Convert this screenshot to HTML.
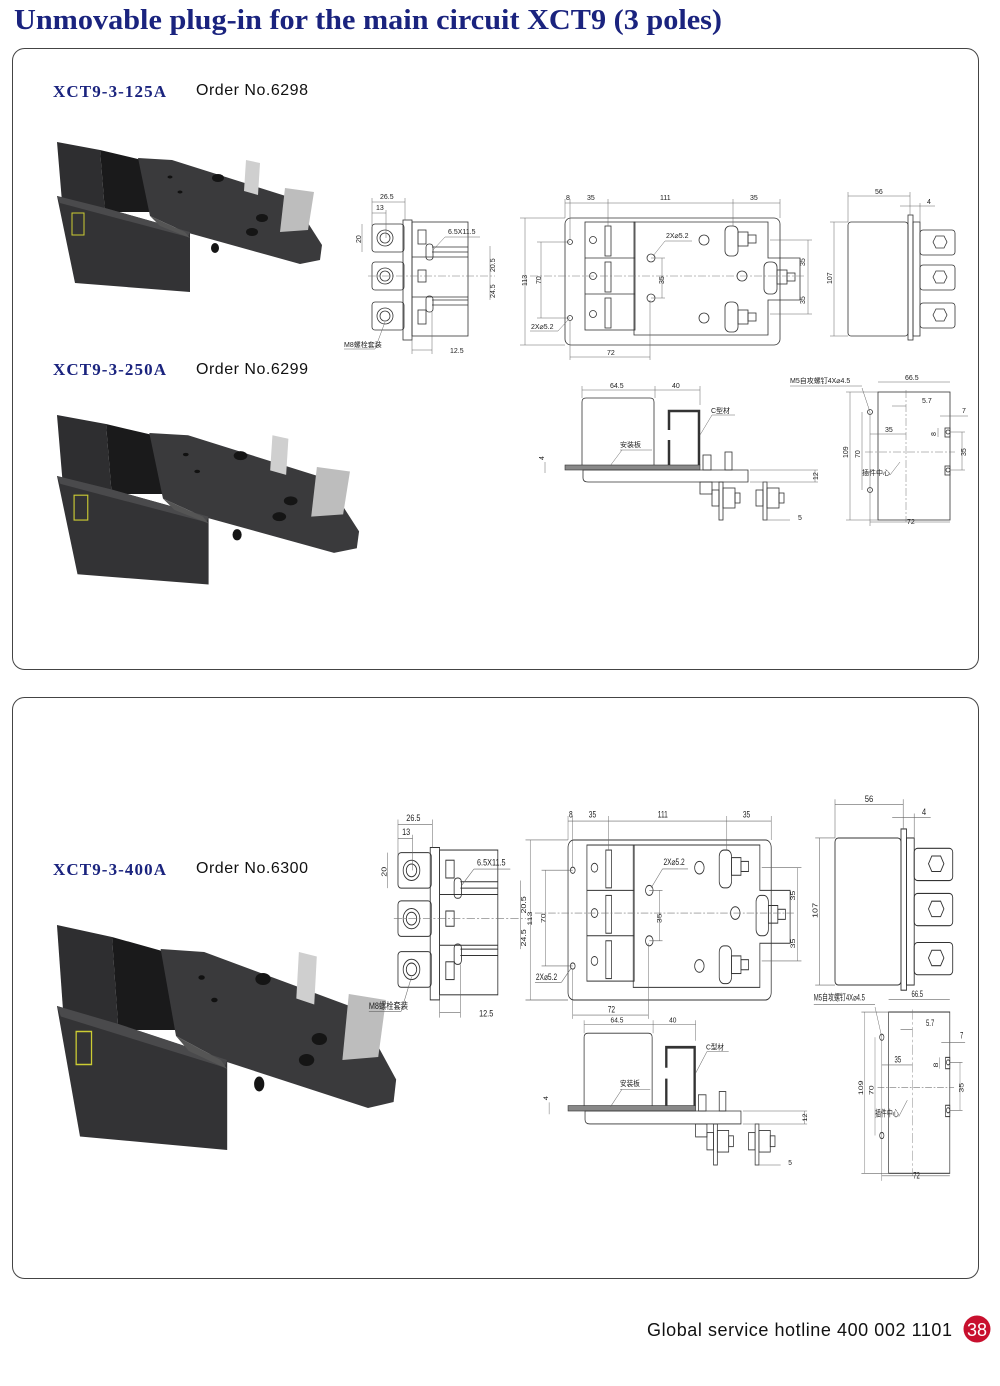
<!DOCTYPE html>
<html><head><meta charset="utf-8"><style>
html,body{margin:0;padding:0;background:#fff;width:1000px;height:1386px;overflow:hidden}
svg{display:block}
.t{font-family:"Liberation Sans","Noto Sans CJK SC",sans-serif;font-size:7px;fill:#222}
.s{fill:none;stroke:#333;stroke-width:0.8}
.d{fill:none;stroke:#666;stroke-width:0.5}
.c{fill:none;stroke:#777;stroke-width:0.5;stroke-dasharray:8 2 2 2}
</style></head><body>
<svg width="1000" height="1386" viewBox="0 0 1000 1386" xmlns="http://www.w3.org/2000/svg">
<defs>
<g id="photo">
 <polygon points="57,142 100,150 105,212 62,202" fill="#2e2e30"/>
 <polygon points="100,150 142,160 182,212 105,212" fill="#1a1a1b"/>
 <polygon points="138,158 172,160 292,198 322,245 320,260 300,264 185,232 150,216" fill="#3a3a3c"/>
 <polygon points="57,196 105,208 190,232 190,292 75,283" fill="#333335"/>
 <polygon points="57,196 105,208 190,232 188,237 60,203" fill="#4a4a4c"/>
 <rect x="72" y="213" width="12" height="22" fill="none" stroke="#cc3" stroke-width="1"/>
 <polygon points="150,216 185,232 190,238 160,226" fill="#555"/>
 <ellipse cx="218" cy="178" rx="6" ry="4" fill="#151515"/>
 <ellipse cx="262" cy="218" rx="6" ry="4" fill="#151515"/>
 <ellipse cx="252" cy="232" rx="6" ry="4" fill="#151515"/>
 <ellipse cx="215" cy="248" rx="4" ry="5" fill="#151515"/>
 <polygon points="246,160 260,163 258,195 244,191" fill="#cfcfcf"/>
 <polygon points="285,188 314,192 308,230 280,232" fill="#bdbdbd"/>
 <ellipse cx="170" cy="177" rx="2.5" ry="1.5" fill="#111"/>
 <ellipse cx="180" cy="192" rx="2.5" ry="1.5" fill="#111"/>
</g>
<g id="vA">
 <rect class="s" x="372" y="224" width="32" height="28" rx="3"/>
 <rect class="s" x="372" y="262" width="32" height="28" rx="3"/>
 <rect class="s" x="372" y="302" width="32" height="28" rx="3"/>
 <g class="s"><circle cx="385" cy="238" r="8"/><circle cx="385" cy="238" r="5"/><circle cx="385" cy="276" r="8"/><circle cx="385" cy="276" r="5"/><circle cx="385" cy="316" r="8"/><circle cx="385" cy="316" r="5"/></g>
 <rect class="s" x="403" y="220" width="9" height="120"/>
 <rect class="s" x="412" y="222" width="56" height="114"/>
 <g class="s"><line x1="412" y1="257" x2="468" y2="257"/><line x1="412" y1="297" x2="468" y2="297"/>
 <line x1="432" y1="247" x2="468" y2="247"/><line x1="432" y1="252" x2="468" y2="252"/><line x1="432" y1="300" x2="468" y2="300"/><line x1="432" y1="305" x2="468" y2="305"/>
 <rect x="418" y="230" width="8" height="14"/><rect x="418" y="270" width="8" height="12"/><rect x="418" y="310" width="8" height="14"/>
 <rect x="426" y="244" width="7" height="16" rx="3"/><rect x="426" y="296" width="7" height="16" rx="3"/></g>
 <line class="c" x1="368" y1="276" x2="495" y2="276"/>
 <g class="d"><line x1="372" y1="202" x2="405" y2="202"/><line x1="372" y1="198" x2="372" y2="226"/><line x1="405" y1="198" x2="405" y2="220"/>
 <line x1="372" y1="213" x2="386" y2="213"/><line x1="386" y1="210" x2="386" y2="238"/>
 <line x1="362" y1="224" x2="362" y2="252"/><line x1="490" y1="246" x2="490" y2="300"/>
 <line x1="412" y1="350" x2="432" y2="350"/><line x1="412" y1="336" x2="412" y2="354"/><line x1="432" y1="312" x2="432" y2="354"/>
 <line x1="433" y1="250" x2="445" y2="237"/><line x1="445" y1="237" x2="480" y2="237"/>
 <line x1="385" y1="322" x2="375" y2="349"/><line x1="344" y1="349" x2="375" y2="349"/></g>
 <text class="t" x="380" y="199">26.5</text><text class="t" x="376" y="210">13</text>
 <text class="t" x="448" y="234">6.5X11.5</text><text class="t" x="450" y="353">12.5</text>
 <text class="t" x="344" y="347">M8螺栓套装</text>
 <text class="t" transform="translate(361,243) rotate(-90)">20</text>
 <text class="t" transform="translate(495,272) rotate(-90)">20.5</text>
 <text class="t" transform="translate(495,298) rotate(-90)">24.5</text>
</g>
<g id="vB">
 <rect class="s" x="565" y="218" width="215" height="127" rx="6"/>
 <rect class="s" x="585" y="222" width="50" height="108"/>
 <g class="s"><line x1="585" y1="258" x2="635" y2="258"/><line x1="585" y1="294" x2="635" y2="294"/>
 <rect x="605" y="226" width="6" height="30"/><rect x="605" y="262" width="6" height="30"/><rect x="605" y="298" width="6" height="30"/>
 <circle cx="593" cy="240" r="3.5"/><circle cx="593" cy="276" r="3.5"/><circle cx="593" cy="314" r="3.5"/>
 <polygon points="634,222 768,222 768,258 800,258 800,300 768,300 768,335 634,335"/>
 <circle cx="651" cy="258" r="4"/><circle cx="651" cy="298" r="4"/><circle cx="704" cy="240" r="5"/><circle cx="704" cy="318" r="5"/><circle cx="742" cy="276" r="5"/>
 <circle cx="570" cy="242" r="2.5"/><circle cx="570" cy="318" r="2.5"/>
 <rect x="725" y="226" width="13" height="30" rx="5"/><rect x="725" y="302" width="13" height="30" rx="5"/><rect x="764" y="262" width="13" height="32" rx="5"/>
 <rect x="738" y="232" width="10" height="14"/><rect x="748" y="235" width="8" height="8"/><rect x="738" y="310" width="10" height="14"/><rect x="748" y="313" width="8" height="8"/><rect x="777" y="270" width="10" height="14"/><rect x="787" y="273" width="8" height="8"/></g>
 <line class="c" x1="530" y1="276" x2="805" y2="276"/>
 <g class="d"><line x1="565" y1="203" x2="780" y2="203"/><line x1="565" y1="199" x2="565" y2="218"/><line x1="570" y1="199" x2="570" y2="240"/><line x1="608" y1="199" x2="608" y2="226"/><line x1="733" y1="199" x2="733" y2="226"/><line x1="780" y1="199" x2="780" y2="218"/>
 <line x1="525" y1="218" x2="525" y2="345"/><line x1="520" y1="218" x2="565" y2="218"/><line x1="520" y1="345" x2="565" y2="345"/>
 <line x1="541" y1="242" x2="541" y2="318"/><line x1="537" y1="242" x2="570" y2="242"/><line x1="537" y1="318" x2="570" y2="318"/>
 <line x1="570" y1="357" x2="650" y2="357"/><line x1="570" y1="320" x2="570" y2="360"/><line x1="650" y1="300" x2="650" y2="360"/>
 <line x1="808" y1="240" x2="808" y2="314"/><line x1="770" y1="240" x2="812" y2="240"/><line x1="770" y1="314" x2="812" y2="314"/>
 <line x1="662" y1="258" x2="662" y2="298"/><line x1="651" y1="258" x2="665" y2="258"/><line x1="651" y1="298" x2="665" y2="298"/>
 <line x1="653" y1="256" x2="665" y2="241"/><line x1="665" y1="241" x2="692" y2="241"/><line x1="568" y1="320" x2="558" y2="331"/><line x1="530" y1="331" x2="558" y2="331"/></g>
 <text class="t" x="566" y="200">8</text><text class="t" x="587" y="200">35</text><text class="t" x="660" y="200">111</text><text class="t" x="750" y="200">35</text>
 <text class="t" x="666" y="238">2X⌀5.2</text><text class="t" x="531" y="329">2X⌀5.2</text><text class="t" x="607" y="355">72</text>
 <text class="t" transform="translate(527,286) rotate(-90)">113</text><text class="t" transform="translate(541,284) rotate(-90)">70</text>
 <text class="t" transform="translate(664,284) rotate(-90)">35</text>
 <text class="t" transform="translate(805,266) rotate(-90)">35</text><text class="t" transform="translate(805,304) rotate(-90)">35</text>
</g>
<g id="vC">
 <rect class="s" x="848" y="222" width="60" height="114" rx="3"/>
 <rect class="s" x="908" y="215" width="5" height="125"/><rect class="s" x="913" y="222" width="7" height="114"/>
 <rect class="s" x="920" y="230" width="35" height="25" rx="3"/><rect class="s" x="920" y="265" width="35" height="25" rx="3"/><rect class="s" x="920" y="303" width="35" height="25" rx="3"/>
 <g class="s"><polygon points="933,242 936,236 944,236 947,242 944,248 936,248"/><polygon points="933,277 936,271 944,271 947,277 944,283 936,283"/><polygon points="933,315 936,309 944,309 947,315 944,321 936,321"/></g>
 <g class="d"><line x1="848" y1="196" x2="910" y2="196"/><line x1="848" y1="192" x2="848" y2="222"/><line x1="910" y1="192" x2="910" y2="215"/>
 <line x1="900" y1="206" x2="935" y2="206"/><line x1="920" y1="203" x2="920" y2="222"/>
 <line x1="834" y1="222" x2="834" y2="336"/><line x1="830" y1="222" x2="848" y2="222"/><line x1="830" y1="336" x2="848" y2="336"/></g>
 <text class="t" x="875" y="194">56</text><text class="t" x="927" y="204">4</text>
 <text class="t" transform="translate(832,284) rotate(-90)">107</text>
</g>
<g id="vD">
 <path class="s" d="M582 468 V402 Q582 398 586 398 H650 Q654 398 654 402 V468"/>
 <path d="M669 465 V440 M669 430 V411 H699 V465" fill="none" stroke="#333" stroke-width="2.5"/>
 <rect x="565" y="465" width="135" height="5" fill="#888" stroke="#333" stroke-width="0.6"/>
 <path class="s" d="M583 470 V478 Q583 482 588 482 H748 V470 Z"/>
 <rect class="s" x="703" y="455" width="8" height="15"/><rect class="s" x="725" y="452" width="7" height="18"/>
 <rect class="s" x="700" y="482" width="12" height="12"/>
 <g class="s"><rect x="719" y="482" width="4" height="38"/><rect x="712" y="490" width="7" height="16"/><rect x="723" y="488" width="12" height="20"/><rect x="735" y="493" width="5" height="10"/>
 <rect x="763" y="482" width="4" height="38"/><rect x="756" y="490" width="7" height="16"/><rect x="767" y="488" width="12" height="20"/><rect x="779" y="493" width="5" height="10"/></g>
 <g class="d"><line x1="582" y1="390" x2="700" y2="390"/><line x1="582" y1="386" x2="582" y2="398"/><line x1="655" y1="386" x2="655" y2="398"/><line x1="700" y1="386" x2="700" y2="405"/>
 <line x1="545" y1="462" x2="545" y2="473"/><line x1="815" y1="470" x2="815" y2="482"/><line x1="750" y1="470" x2="818" y2="470"/><line x1="750" y1="482" x2="818" y2="482"/>
 <line x1="763" y1="520" x2="790" y2="520"/><line x1="610" y1="466" x2="622" y2="450"/><line x1="620" y1="450" x2="652" y2="450"/>
 <line x1="700" y1="435" x2="712" y2="415"/><line x1="712" y1="415" x2="735" y2="415"/></g>
 <text class="t" x="610" y="388">64.5</text><text class="t" x="672" y="388">40</text>
 <text class="t" x="620" y="447">安装板</text><text class="t" x="711" y="413">C型材</text>
 <text class="t" x="798" y="520">5</text>
 <text class="t" transform="translate(544,460) rotate(-90)">4</text><text class="t" transform="translate(818,480) rotate(-90)">12</text>
</g>
<g id="vE">
 <rect class="s" x="878" y="392" width="72" height="128"/>
 <rect class="s" x="945" y="428" width="5" height="9"/><rect class="s" x="945" y="466" width="5" height="9"/>
 <g class="s"><circle cx="870" cy="412" r="2.5"/><circle cx="870" cy="490" r="2.5"/><circle cx="948" cy="432" r="2"/><circle cx="948" cy="470" r="2"/></g>
 <line class="c" x1="906" y1="390" x2="906" y2="522"/><line class="c" x1="865" y1="452" x2="955" y2="452"/>
 <g class="d"><line x1="878" y1="382" x2="950" y2="382"/><line x1="850" y1="392" x2="850" y2="520"/><line x1="846" y1="392" x2="878" y2="392"/><line x1="846" y1="520" x2="878" y2="520"/>
 <line x1="862" y1="412" x2="862" y2="490"/><line x1="870" y1="522" x2="950" y2="522"/><line x1="870" y1="412" x2="870" y2="526"/>
 <line x1="870" y1="434" x2="906" y2="434"/><line x1="892" y1="406" x2="906" y2="406"/><line x1="940" y1="416" x2="968" y2="416"/>
 <line x1="938" y1="428" x2="938" y2="437"/><line x1="962" y1="432" x2="962" y2="470"/><line x1="950" y1="432" x2="965" y2="432"/><line x1="950" y1="470" x2="965" y2="470"/>
 <line x1="870" y1="412" x2="862" y2="388"/><line x1="790" y1="386" x2="862" y2="386"/><line x1="890" y1="475" x2="900" y2="462"/></g>
 <text class="t" x="905" y="380">66.5</text><text class="t" x="922" y="403">5.7</text><text class="t" x="962" y="413">7</text>
 <text class="t" x="885" y="432">35</text><text class="t" x="862" y="475">插件中心</text><text class="t" x="907" y="524">72</text>
 <text class="t" x="790" y="383">M5自攻螺钉4X⌀4.5</text>
 <text class="t" transform="translate(848,458) rotate(-90)">109</text><text class="t" transform="translate(860,458) rotate(-90)">70</text>
 <text class="t" transform="translate(936,436) rotate(-90)">8</text><text class="t" transform="translate(966,456) rotate(-90)">35</text>
</g>
</defs>

<text x="14" y="29" font-family="Liberation Serif,serif" font-weight="bold" font-size="29" fill="#1a237e" textLength="708" lengthAdjust="spacingAndGlyphs">Unmovable plug-in for the main circuit XCT9 (3 poles)</text>

<rect x="12.5" y="48.5" width="966" height="621" rx="12" fill="none" stroke="#444" stroke-width="1"/>
<rect x="12.5" y="697.5" width="966" height="581" rx="12" fill="none" stroke="#444" stroke-width="1"/>

<g font-family="Liberation Serif,serif" font-weight="bold" font-size="17" fill="#1a237e">
<text x="53" y="97" textLength="113">XCT9-3-125A</text><text x="53" y="375" textLength="113">XCT9-3-250A</text><text x="53" y="875" textLength="113">XCT9-3-400A</text></g>
<g font-family="Liberation Sans,sans-serif" font-size="16" fill="#111">
<text x="196" y="95" textLength="112">Order No.6298</text><text x="196" y="374" textLength="112">Order No.6299</text><text x="196" y="873" textLength="112">Order No.6300</text></g>

<use href="#photo"/>
<use href="#photo" transform="translate(-8,254.5) scale(1.14,1.13)"/>
<use href="#photo" transform="translate(-16,712) scale(1.28,1.5)"/>

<use href="#vA"/><use href="#vB"/><use href="#vC"/><use href="#vD"/><use href="#vE"/>
<use href="#vA" transform="translate(11.1,568.1) scale(1.04,1.27)"/>
<use href="#vB" transform="translate(34.1,565.3) scale(0.945,1.26)"/>
<use href="#vC" transform="translate(-97.8,551.6) scale(1.1,1.29)"/>
<use href="#vD" transform="translate(34.1,603.4) scale(0.945,1.08)"/>
<use href="#vE" transform="translate(142.3,518.1) scale(0.85,1.26)"/>

<text x="647" y="1336" font-family="Liberation Sans,sans-serif" font-size="18" fill="#111" textLength="305">Global service hotline  400 002 1101</text>
<circle cx="977" cy="1329" r="13.5" fill="#c8102e"/>
<text x="977" y="1336" text-anchor="middle" font-family="Liberation Sans,sans-serif" font-size="18" fill="#fff">38</text>
</svg>
</body></html>
